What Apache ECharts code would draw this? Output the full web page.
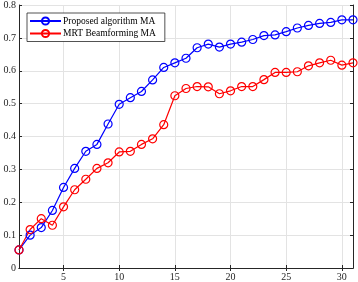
<!DOCTYPE html>
<html><head><meta charset="utf-8">
<script src="https://cdn.jsdelivr.net/npm/echarts@6/dist/echarts.min.js"></script>
<style>html,body{margin:0;padding:0;background:#fff}#c{width:358px;height:282px}</style>
</head><body><div id="c"></div>
<script>
const xValues = [1,2,3,4,5,6,7,8,9,10,11,12,13,14,15,16,17,18,19,20,21,22,23,24,25,26,27,28,29,30,31];
const proposedMA = [0.055,0.100,0.123,0.175,0.245,0.303,0.355,0.376,0.438,0.498,0.518,0.537,0.572,0.610,0.624,0.638,0.670,0.681,0.672,0.681,0.687,0.695,0.707,0.709,0.719,0.730,0.738,0.744,0.747,0.755,0.755];
const mrtMA = [0.055,0.117,0.150,0.130,0.186,0.238,0.270,0.303,0.320,0.353,0.355,0.376,0.393,0.436,0.524,0.546,0.552,0.551,0.530,0.539,0.552,0.552,0.573,0.595,0.595,0.597,0.615,0.624,0.632,0.617,0.624];
const xTicks = [5,10,15,20,25,30];
const seriesNames = ['Proposed algorithm MA','MRT Beamforming MA'];

const font = 'Liberation Serif';
const axisColor = '#262626';
const chart = echarts.init(document.getElementById('c'));
const mk = (name, vals, color) => ({
  name, type: 'line', data: xValues.map((x,i)=>[x, vals[i]]),
  symbol: 'circle', symbolSize: 8, showSymbol: true,
  itemStyle: {color: 'transparent', borderColor: color, borderWidth: 1.2},
  lineStyle: {color, width: 1.2}, color, animation: false
});
chart.setOption({
  animation: false,
  grid: {left: 19, right: 5, top: 4, bottom: 14, containLabel: false},
  legend: {
    orient: 'vertical', left: 27, top: 13, data: seriesNames,
    backgroundColor: '#fff', borderColor: axisColor, borderWidth: 0.8,
    padding: [3, 9, 3, 2], itemGap: 2.5, itemWidth: 31, itemHeight: 9,
    textStyle: {fontFamily: font, fontSize: 9.5, color: '#000', padding: [0,0,0,-3]}
  },
  xAxis: [{
    type: 'value', min: 1, max: 31,
    axisLine: {show: true, lineStyle: {color: axisColor, width: 1}},
    axisTick: {show: true, inside: true, length: 3, customValues: xTicks, lineStyle: {color: axisColor}},
    axisLabel: {customValues: xTicks, fontFamily: font, fontSize: 10, color: axisColor, margin: 4},
    splitLine: {show: true, lineStyle: {color: '#e3e3e3', width: 1}}
  },{
    type: 'value', min: 1, max: 31, position: 'top',
    axisLine: {show: true, lineStyle: {color: axisColor, width: 1}},
    axisTick: {show: true, inside: true, length: 3, customValues: xTicks, lineStyle: {color: axisColor}},
    axisLabel: {show: false}, splitLine: {show: false}
  }],
  yAxis: [{
    type: 'value', min: 0, max: 0.8, interval: 0.1,
    axisLine: {show: true, lineStyle: {color: axisColor, width: 1}},
    axisTick: {show: true, inside: true, length: 3, lineStyle: {color: axisColor}},
    axisLabel: {fontFamily: font, fontSize: 10, color: axisColor, margin: 3,
      formatter: v => (Math.round(v*10)/10).toString()},
    splitLine: {show: true, lineStyle: {color: '#e3e3e3', width: 1}}
  },{
    type: 'value', min: 0, max: 0.8, interval: 0.1, position: 'right',
    axisLine: {show: true, lineStyle: {color: axisColor, width: 1}},
    axisTick: {show: true, inside: true, length: 3, lineStyle: {color: axisColor}},
    axisLabel: {show: false}, splitLine: {show: false}
  }],
  series: [mk(seriesNames[0], proposedMA, '#0000ff'), mk(seriesNames[1], mrtMA, '#ff0000')]
});
</script></body></html>
